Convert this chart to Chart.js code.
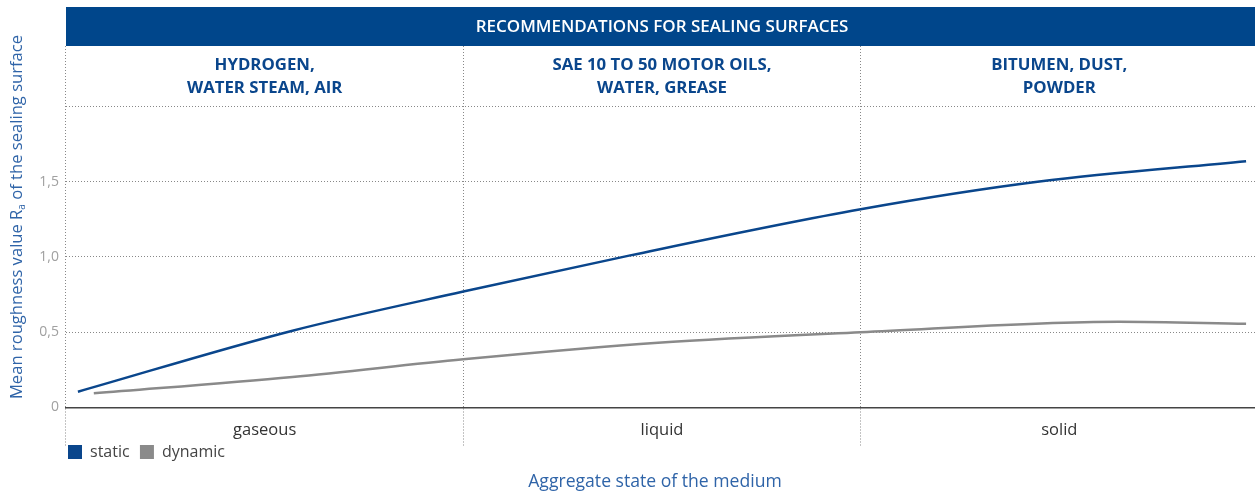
<!DOCTYPE html>
<html>
<head>
<meta charset="utf-8">
<script src="https://cdn.jsdelivr.net/npm/chart.js@4/dist/chart.umd.min.js"></script>
<style>
	html, body { margin: 0; padding: 0; background: #fff; overflow: hidden; }
	#wrap { width: 1258px; height: 495px; }
</style>
</head>
<body>
<div id="wrap"><canvas id="roughness-chart" width="1258" height="495"></canvas></div>
<script>
var categories = ["gaseous", "liquid", "solid"];
var columnHeaders = [
	["HYDROGEN,", "WATER STEAM, AIR"],
	["SAE 10 TO 50 MOTOR OILS,", "WATER, GREASE"],
	["BITUMEN, DUST,", "POWDER"]
];
// position along the medium axis (0..3, one unit per category) and Ra value
var staticX = [0.03, 0.57, 1.0, 1.42, 2.0, 2.45, 2.97];
var staticY = [0.105, 0.51, 0.77, 1.01, 1.316, 1.5, 1.635];
var dynamicX = [0.07, 0.57, 1.0, 1.49, 2.0, 2.65, 2.97];
var dynamicY = [0.094, 0.203, 0.32, 0.43, 0.5, 0.57, 0.556];
var yTicks = [0, 0.5, 1.0, 1.5, 2.0];

var blue = "#0a468c";
var grey = "#8a8a8a";
var fontFamily = "'Open Sans', 'Noto Sans', sans-serif";

function toPoints(xs, ys) {
	var pts = [];
	for (var i = 0; i < xs.length; i++) {
		pts.push({x: xs[i], y: ys[i]});
	}
	return pts;
}

var decorations = {
	id: "decorations",
	afterDraw: function(chart) {
		var ctx = chart.ctx;
		var area = chart.chartArea;
		var x2 = chart.scales.x2;
		ctx.save();
		// title band
		ctx.fillStyle = "#00468b";
		ctx.fillRect(area.left, 7, area.right - area.left, area.top - 7);
		ctx.fillStyle = "#ffffff";
		ctx.font = "600 17px " + fontFamily;
		ctx.textAlign = "center";
		ctx.textBaseline = "middle";
		ctx.fillText("RECOMMENDATIONS FOR SEALING SURFACES", (area.left + area.right) / 2, 27);
		// column headers
		ctx.fillStyle = blue;
		ctx.font = "bold 16.8px " + fontFamily;
		for (var i = 0; i < columnHeaders.length; i++) {
			var cx = x2.getPixelForTick(i);
			ctx.fillText(columnHeaders[i][0], cx, 65);
			ctx.fillText(columnHeaders[i][1], cx, 88);
		}
		// x axis title
		ctx.fillStyle = "#2f64a8";
		ctx.font = "17.6px " + fontFamily;
		ctx.fillText("Aggregate state of the medium", 655, 482);
		// y axis title with subscript
		ctx.translate(17, 217);
		ctx.rotate(-Math.PI / 2);
		var part1 = "Mean roughness value R";
		var sub = "a";
		var part2 = " of the sealing surface";
		ctx.font = "16.6px " + fontFamily;
		var w1 = ctx.measureText(part1).width;
		var w3 = ctx.measureText(part2).width;
		ctx.font = "10px " + fontFamily;
		var w2 = ctx.measureText(sub).width;
		var start = -(w1 + w2 + w3) / 2;
		ctx.textAlign = "left";
		ctx.font = "16.6px " + fontFamily;
		ctx.fillText(part1, start, 0);
		ctx.font = "10px " + fontFamily;
		ctx.fillText(sub, start + w1, 5);
		ctx.font = "16.6px " + fontFamily;
		ctx.fillText(part2, start + w1 + w2, 0);
		ctx.restore();
	}
};

var canvas = document.getElementById("roughness-chart");
var roughnessChart = new Chart(canvas, {
	type: "line",
	data: {
		labels: categories,
		datasets: [
			{
				label: "static",
				data: toPoints(staticX, staticY),
				borderColor: blue,
				backgroundColor: blue,
				borderWidth: 2.5,
				pointRadius: 0,
				cubicInterpolationMode: "monotone",
				xAxisID: "x"
			},
			{
				label: "dynamic",
				data: toPoints(dynamicX, dynamicY),
				borderColor: grey,
				backgroundColor: grey,
				borderWidth: 2.5,
				pointRadius: 0,
				cubicInterpolationMode: "monotone",
				xAxisID: "x"
			}
		]
	},
	options: {
		responsive: false,
		animation: false,
		layout: { padding: { top: 46, left: 0, right: 0, bottom: 25 } },
		plugins: {
			tooltip: { enabled: false },
			legend: {
				position: "bottom",
				align: "start",
				fullSize: false,
				labels: {
					boxWidth: 14,
					boxHeight: 14,
					padding: 2,
					color: "#444",
					font: { family: fontFamily, size: 16 },
					generateLabels: function(chart) {
						var items = Chart.defaults.plugins.legend.labels.generateLabels(chart);
						items.forEach(function(item) { item.text = item.text + "  "; item.lineWidth = 0; });
						return items;
					}
				}
			}
		},
		scales: {
			x: {
				type: "linear",
				display: false,
				min: 0,
				max: 3
			},
			x2: {
				type: "category",
				labels: categories,
				position: "bottom",
				offset: true,
				grid: {
					offset: true,
					color: "#888",
					lineWidth: 1,
					drawTicks: true,
					tickLength: 38,
					tickColor: "#888",
					tickBorderDash: [1, 2]
				},
				border: { color: "#444", width: 1.5, dash: [1, 2] },
				ticks: {
					color: "#333",
					padding: -25.5,
					font: { family: fontFamily, size: 16.5 }
				},
				afterFit: function(scale) { scale.height = 34.5; }
			},
			y: {
				min: 0,
				max: 2.4,
				afterBuildTicks: function(scale) {
					scale.ticks = yTicks.map(function(v) { return {value: v}; });
				},
				grid: {
					color: function(c) { return c.tick && c.tick.value === 0 ? "rgba(0,0,0,0)" : "#888"; },
					lineWidth: 1,
					drawTicks: false
				},
				border: { display: false, dash: [1, 2] },
				ticks: {
					color: "#a0a0a0",
					padding: 7,
					font: { family: fontFamily, size: 14 },
					callback: function(value) {
						if (value === 2) return "";
						if (value === 0) return "0";
						return value.toFixed(1).replace(".", ",");
					}
				},
				afterFit: function(scale) { scale.width = 66; }
			}
		}
	},
	plugins: [decorations]
});
</script>
</body>
</html>
